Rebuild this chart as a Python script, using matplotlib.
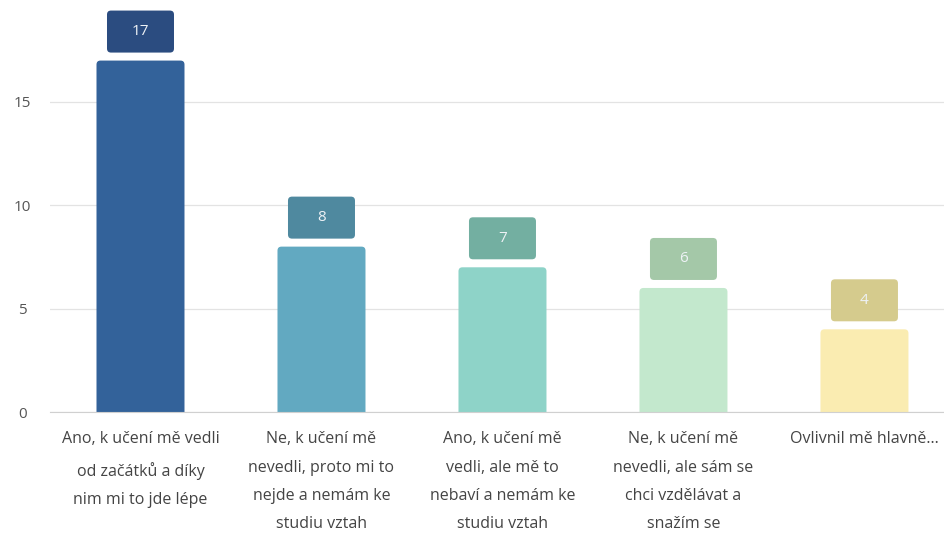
import matplotlib
matplotlib.use("Agg")
import matplotlib.pyplot as plt
from matplotlib.patches import FancyBboxPatch

categories = [
    "Ano, k učení mě vedli\nod začátků a díky\nnim mi to jde lépe",
    "Ne, k učení mě\nnevedli, proto mi to\nnejde a nemám ke\nstudiu vztah",
    "Ano, k učení mě\nvedli, ale mě to\nnebaví a nemám ke\nstudiu vztah",
    "Ne, k učení mě\nnevedli, ale sám se\nchci vzdělávat a\nsnažím se",
    "Ovlivnil mě hlavně...",
]
values = [17, 8, 7, 6, 4]
bar_colors = ["#33629a", "#62a9c1", "#8ed3c8", "#c3e8cd", "#faecb1"]
box_colors = ["#2b4c80", "#4f899f", "#73afa1", "#a4c8a8", "#d5cb8d"]
y_ticks = [0, 5, 10, 15]

plt.rcParams["font.family"] = ["Open Sans", "DejaVu Sans"]

fig = plt.figure(figsize=(9.45, 5.35), dpi=100)
ax = fig.add_axes([50 / 945, 123 / 535, 895 / 945, 412 / 535])
ax.set_xlim(-0.5, 4.445)
ax.set_ylim(0, 19.93)

# pixel sizes converted to data units
px_x = 1 / 181.0
px_y = 1 / 20.67
bar_w = 88 * px_x
box_w = 67 * px_x
box_h = 42 * px_y
r = 4 * px_x
aspect = px_y / px_x

for i, (v, bc, lc) in enumerate(zip(values, bar_colors, box_colors)):
    bar = FancyBboxPatch((i - bar_w / 2, -1), bar_w, v + 1,
                         boxstyle=f"round,pad=0,rounding_size={r}",
                         mutation_aspect=aspect, fc=bc, ec="none", zorder=3)
    ax.add_patch(bar)
    yb = v + 8 * px_y
    box = FancyBboxPatch((i - box_w / 2, yb), box_w, box_h,
                         boxstyle=f"round,pad=0,rounding_size={r}",
                         mutation_aspect=aspect, fc=lc, ec="none", zorder=4,
                         clip_on=False)
    ax.add_patch(box)
    ax.text(i, yb + box_h / 2, str(v), ha="center", va="center",
            color="#eef2f6", fontsize=11, zorder=5)

ax.set_yticks(y_ticks)
ax.set_yticklabels([str(t) for t in y_ticks])
ax.set_xticks(range(len(categories)))
ax.set_xticklabels(categories, linespacing=2.02)
ax.tick_params(axis="x", length=0, pad=14, labelsize=11.5, labelcolor="#444444")
ax.tick_params(axis="y", length=0, pad=20, labelsize=11, labelcolor="#555555")
for t in ax.get_yticklabels():
    t.set_horizontalalignment("center")

ax.grid(axis="y", color="#e3e3e3", linewidth=0.9, zorder=0)
ax.set_axisbelow(True)
for s in ["top", "right", "left"]:
    ax.spines[s].set_visible(False)
ax.spines["bottom"].set_color("#d0d0d0")
ax.spines["bottom"].set_zorder(6)

fig.savefig("out.png", dpi=100)
